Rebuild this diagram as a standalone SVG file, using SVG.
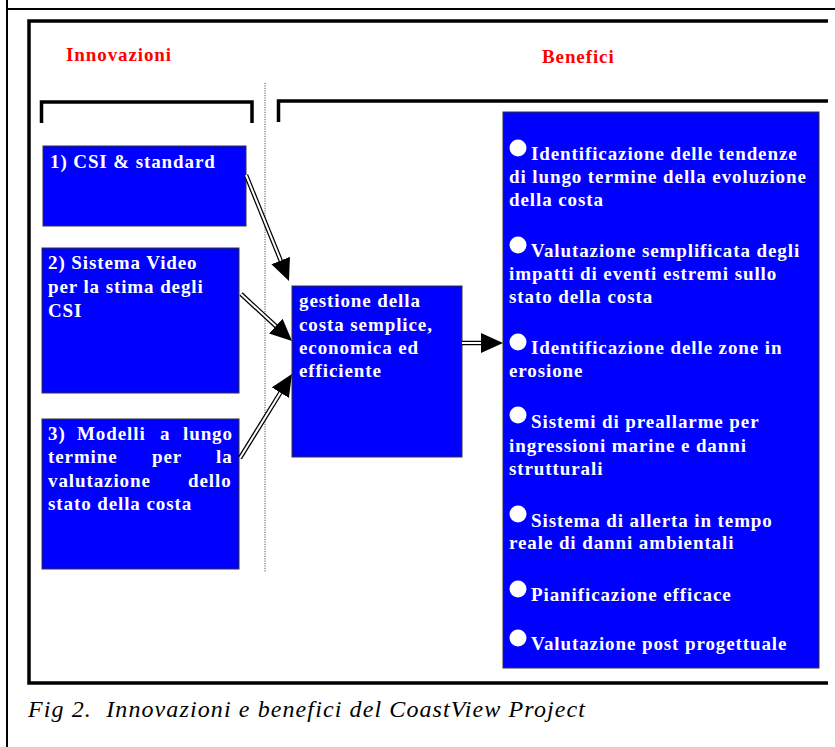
<svg xmlns="http://www.w3.org/2000/svg" width="835" height="747" viewBox="0 0 835 747">
<style>
.frame{fill:none;stroke:#000;stroke-width:3.5}
.thin{fill:none;stroke:#000;stroke-width:2}
.bracket{fill:none;stroke:#000;stroke-width:3.5}
.box{fill:#0000FF;stroke:#333;stroke-width:1}
.t{font-family:"Liberation Serif","Times New Roman",serif;font-weight:bold;font-size:19px;letter-spacing:0.9px;fill:#fff}
.title{font-family:"Liberation Serif","Times New Roman",serif;font-weight:bold;font-size:19px;letter-spacing:0.9px;fill:#FF0000}
.bullet{fill:#fff}
.so{stroke:#000;stroke-width:4.5;fill:none}
.si{stroke:#fff;stroke-width:2;fill:none}
.dots{stroke:#555;stroke-width:1;stroke-dasharray:1.2 1.2;fill:none}
.caption{font-family:"Liberation Serif","Times New Roman",serif;font-style:italic;font-size:24px;fill:#000}
</style>
<defs>
<marker id="head" markerUnits="userSpaceOnUse" viewBox="0 0 22 20" markerWidth="22" markerHeight="20" refX="8" refY="10" orient="auto">
<path d="M0,0 L22,10 L0,20 z" fill="#000"/>
</marker>
</defs>
<rect width="835" height="747" fill="#fff"/>
<g id="page-frame">
<line class="thin" x1="7" y1="0" x2="7" y2="747"/>
<line class="thin" x1="7" y1="9" x2="835" y2="9"/>
<polyline class="frame" points="828,21 29,21 29,683 828,683"/>
</g>
<g id="headings">
<text class="title" x="66" y="61">Innovazioni</text>
<text class="title" x="542" y="63">Benefici</text>
</g>
<g id="brackets">
<polyline class="bracket" points="41.5,123 41.5,102 252,102 252,123"/>
<polyline class="bracket" points="278.5,122 278.5,101 828,101"/>
<line class="dots" x1="265" y1="83" x2="265" y2="572"/>
</g>
<g id="box1">
<rect class="box" x="43" y="146" width="203" height="80"/>
<text class="t" x="50" y="168">1) CSI &amp; standard</text>
</g>
<g id="box2">
<rect class="box" x="42" y="248" width="197" height="145"/>
<text class="t" x="48" y="269">2) Sistema Video</text>
<text class="t" x="48" y="293">per la stima degli</text>
<text class="t" x="48" y="317">CSI</text>
</g>
<g id="box3">
<rect class="box" x="42" y="419" width="197" height="150"/>
<text class="t" y="440"><tspan x="48">3)</tspan><tspan x="77">Modelli</tspan><tspan x="160">a</tspan><tspan x="183">lungo</tspan></text>
<text class="t" y="463"><tspan x="48">termine</tspan><tspan x="152">per</tspan><tspan x="216">la</tspan></text>
<text class="t" y="487"><tspan x="48">valutazione</tspan><tspan x="188">dello</tspan></text>
<text class="t" x="48" y="510">stato della costa</text>
</g>
<g id="center">
<rect class="box" x="292" y="286" width="170" height="171"/>
<text class="t" x="299" y="307">gestione della</text>
<text class="t" x="299" y="331">costa semplice,</text>
<text class="t" x="299" y="354">economica ed</text>
<text class="t" x="299" y="377">efficiente</text>
</g>
<g id="benefits">
<rect class="box" x="503" y="112" width="316" height="556"/>
<circle class="bullet" cx="518" cy="148" r="8.5"/>
<text class="t" x="531" y="160">Identificazione delle tendenze</text>
<text class="t" x="509" y="183">di lungo termine della evoluzione</text>
<text class="t" x="509" y="206">della costa</text>
<circle class="bullet" cx="518" cy="245" r="8.5"/>
<text class="t" x="531" y="257">Valutazione semplificata degli</text>
<text class="t" x="509" y="280">impatti di eventi estremi sullo</text>
<text class="t" x="509" y="303">stato della costa</text>
<circle class="bullet" cx="518" cy="342" r="8.5"/>
<text class="t" x="531" y="354">Identificazione delle zone in</text>
<text class="t" x="509" y="377">erosione</text>
<circle class="bullet" cx="518" cy="415" r="8.5"/>
<text class="t" x="531" y="428">Sistemi di preallarme per</text>
<text class="t" x="509" y="452">ingressioni marine e danni</text>
<text class="t" x="509" y="475">strutturali</text>
<circle class="bullet" cx="518" cy="514" r="8.5"/>
<text class="t" x="531" y="527">Sistema di allerta in tempo</text>
<text class="t" x="509" y="549">reale di danni ambientali</text>
<circle class="bullet" cx="518" cy="589" r="8.5"/>
<text class="t" x="531" y="601">Pianificazione efficace</text>
<circle class="bullet" cx="518" cy="638" r="8.5"/>
<text class="t" x="531" y="650">Valutazione post progettuale</text>
</g>
<g id="connectors">
<line class="so" x1="246" y1="175" x2="283.7" y2="268"/>
<line class="si" x1="246" y1="175" x2="283.7" y2="268" marker-end="url(#head)"/>
<line class="so" x1="241" y1="294" x2="281.7" y2="331.5"/>
<line class="si" x1="241" y1="294" x2="281.7" y2="331.5" marker-end="url(#head)"/>
<line class="so" x1="240" y1="458" x2="284.6" y2="385.9"/>
<line class="si" x1="240" y1="458" x2="284.6" y2="385.9" marker-end="url(#head)"/>
<line class="so" x1="462" y1="343" x2="489" y2="343"/>
<line class="si" x1="462" y1="343" x2="489" y2="343" marker-end="url(#head)"/>
</g>
<g id="caption">
<text class="caption" x="28" y="717" xml:space="preserve" textLength="557" lengthAdjust="spacing">Fig 2.  Innovazioni e benefici del CoastView Project</text>
</g>
</svg>
